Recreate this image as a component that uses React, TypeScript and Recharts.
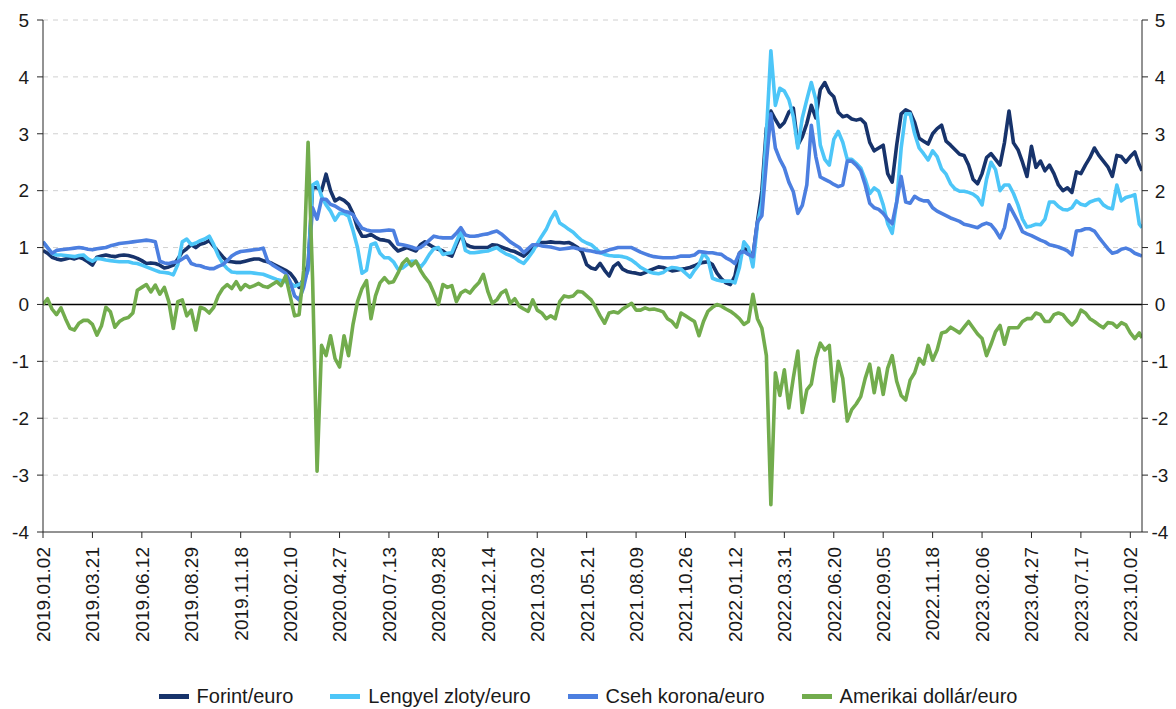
import React from 'react';
import { LineChart, Line, XAxis, YAxis, ReferenceLine, Legend } from 'recharts';

// trading-day index of each sample (every 5th trading day from 2019.01.02, plus the last day)
const days: number[] = Array.from({ length: 245 }, (_, k) => k * 5).concat([1223]);

const tickDays = [0, 55, 110, 165, 220, 275, 330, 385, 440, 495, 550, 605, 660, 715, 770, 825, 880, 935, 990, 1045, 1100, 1155, 1210];
const tickLabels = [
  '2019.01.02', '2019.03.21', '2019.06.12', '2019.08.29', '2019.11.18', '2020.02.10', '2020.04.27',
  '2020.07.13', '2020.09.28', '2020.12.14', '2021.03.02', '2021.05.21', '2021.08.09', '2021.10.26',
  '2022.01.12', '2022.03.31', '2022.06.20', '2022.09.05', '2022.11.18', '2023.02.06', '2023.04.27',
  '2023.07.17', '2023.10.02',
];
const yTicks = [-4, -3, -2, -1, 0, 1, 2, 3, 4, 5];
const gridValues = [-3, -2, -1, 1, 2, 3, 4, 5];

const forint = [
  0.95, 0.9, 0.83, 0.8, 0.78, 0.8, 0.82, 0.8, 0.83, 0.8, 0.75,
  0.69, 0.83, 0.85, 0.87, 0.85, 0.84, 0.86, 0.87, 0.86, 0.84, 0.81,
  0.77, 0.72, 0.73, 0.72, 0.69, 0.64, 0.66, 0.69, 0.8, 0.92, 0.98,
  1.05, 1.0, 1.06, 1.08, 1.12, 1.02, 0.93, 0.84, 0.76, 0.75, 0.74,
  0.74, 0.76, 0.78, 0.8, 0.8, 0.77, 0.75, 0.72, 0.68, 0.64, 0.6,
  0.55, 0.45, 0.3, 0.45, 0.7, 2.05, 2.05, 2.0, 2.29, 2.0, 1.82,
  1.87, 1.83, 1.76, 1.6, 1.35, 1.2, 1.2, 1.23, 1.18, 1.14, 1.13,
  1.11, 1.02, 0.94, 0.97, 1.0, 0.97, 0.94, 1.05, 1.1, 1.05, 1.0,
  0.97, 0.94, 0.88, 0.85, 1.05, 1.23, 1.06, 1.02, 1.0, 1.0, 1.0,
  1.0, 1.05, 1.04, 1.01, 0.98, 0.95, 0.93, 0.89, 0.85, 0.92, 0.98,
  1.05, 1.09, 1.09, 1.1, 1.09, 1.09, 1.08, 1.09, 1.05, 1.0, 0.92,
  0.7, 0.64, 0.62, 0.72, 0.6, 0.5, 0.67, 0.73, 0.62, 0.58, 0.56,
  0.55, 0.53, 0.56, 0.6, 0.63, 0.66, 0.65, 0.62, 0.59, 0.6, 0.62,
  0.63, 0.65, 0.68, 0.72, 0.74, 0.75, 0.7, 0.55, 0.45, 0.38, 0.35,
  0.5, 0.9, 0.98, 0.94, 0.85, 1.45, 2.0, 3.1, 3.4, 3.25, 3.12,
  3.2, 3.38, 3.45, 2.8, 2.95, 3.18, 3.5, 3.28, 3.78, 3.9, 3.73,
  3.65, 3.38, 3.3, 3.32, 3.26, 3.24, 3.26, 3.18, 2.85, 2.7, 2.75,
  2.8, 2.3, 2.15, 2.8, 3.35, 3.42, 3.38, 3.2, 2.92, 2.87, 2.82,
  3.0, 3.09, 3.15, 2.87, 2.8, 2.72, 2.64, 2.62, 2.45, 2.2, 2.12,
  2.3, 2.58, 2.65, 2.55, 2.45, 2.85, 3.4, 2.84, 2.72, 2.5, 2.25,
  2.78, 2.41, 2.52, 2.35, 2.45, 2.3, 2.1, 2.0, 2.05, 1.97, 2.33,
  2.3, 2.45, 2.58, 2.75, 2.62, 2.52, 2.42, 2.25, 2.62, 2.6, 2.5,
  2.6, 2.68, 2.45, 2.35,
];

const zloty = [
  1.1, 1.0, 0.9, 0.87, 0.87, 0.86, 0.85, 0.84, 0.86, 0.87, 0.8,
  0.76, 0.81, 0.8, 0.78, 0.77, 0.76, 0.75, 0.75, 0.75, 0.73, 0.72,
  0.69, 0.66, 0.63, 0.6, 0.57, 0.56, 0.55, 0.52, 0.7, 1.1, 1.15,
  1.05, 1.08, 1.12, 1.15, 1.2, 1.05, 0.86, 0.72, 0.63, 0.57, 0.56,
  0.56, 0.56, 0.56, 0.55, 0.54, 0.53, 0.5, 0.47, 0.44, 0.42, 0.4,
  0.38, 0.32, 0.35, 0.4, 0.6, 2.1, 2.15, 1.9, 1.75, 1.64, 1.48,
  1.6, 1.6, 1.55, 1.3, 1.0, 0.55, 0.6, 1.05, 1.08, 0.9, 0.82,
  0.82, 0.75, 0.62, 0.64, 0.7, 0.76, 0.76, 0.65, 0.75, 0.88, 0.98,
  1.0, 0.88, 0.9, 0.91, 1.1, 1.29, 0.95, 0.91, 0.91, 0.92, 0.93,
  0.94, 0.97, 1.0, 0.94, 0.89, 0.86, 0.82, 0.76, 0.72, 0.82, 0.93,
  1.07, 1.2, 1.32, 1.5, 1.63, 1.43, 1.38, 1.32, 1.27, 1.19, 1.12,
  1.08, 1.05, 0.98, 0.91, 0.88, 0.86, 0.85, 0.85, 0.84, 0.82, 0.78,
  0.72, 0.65, 0.61, 0.57, 0.55, 0.54, 0.56, 0.62, 0.65, 0.64, 0.62,
  0.55, 0.48, 0.6, 0.7, 0.9, 0.8, 0.46, 0.43, 0.41, 0.41, 0.41,
  0.38, 0.65, 1.1, 1.0, 0.66, 1.4, 1.8, 3.0, 4.46, 3.5, 3.8,
  3.75, 3.6, 3.3, 2.75, 3.28, 3.6, 3.9, 3.6, 2.8, 2.55, 2.45,
  2.9, 3.04, 2.85, 2.55, 2.55, 2.48, 2.4, 2.2, 1.95, 2.05, 1.99,
  1.75, 1.42, 1.25, 1.8, 2.75, 3.35, 3.35, 3.0, 2.75, 2.65, 2.54,
  2.7, 2.6, 2.38, 2.29, 2.12, 2.03, 1.99, 1.99, 1.97, 1.94, 1.88,
  1.75, 2.2, 2.5, 2.37, 2.0, 2.1, 2.1, 1.95, 1.75, 1.5, 1.36,
  1.38, 1.41, 1.4, 1.5, 1.8, 1.8, 1.72, 1.67, 1.66, 1.7, 1.82,
  1.76, 1.74, 1.8, 1.83, 1.85, 1.75, 1.7, 1.68, 2.1, 1.82, 1.88,
  1.9, 1.93, 1.41, 1.35,
];

const cseh = [
  1.1, 1.0, 0.9, 0.95, 0.96, 0.97, 0.98, 0.99, 1.0, 0.99, 0.97,
  0.96, 0.98, 0.99, 1.0, 1.03, 1.05, 1.07, 1.08, 1.09, 1.1, 1.11,
  1.12, 1.13, 1.12, 1.1, 0.76, 0.73, 0.72, 0.74, 0.75, 0.8, 0.85,
  0.72, 0.69, 0.68, 0.65, 0.63, 0.63, 0.67, 0.7, 0.77, 0.85, 0.9,
  0.93, 0.94, 0.95, 0.96, 0.97, 0.99, 0.76, 0.7, 0.65, 0.6, 0.55,
  0.4, 0.15, 0.08, 0.3, 0.65, 1.7, 1.5, 1.85, 1.85, 1.76, 1.73,
  1.68, 1.64, 1.62, 1.58, 1.45, 1.34, 1.31, 1.29, 1.29, 1.29, 1.3,
  1.31, 1.3, 1.06, 1.05, 1.03, 1.01, 0.98, 1.0, 1.06, 1.13, 1.2,
  1.18, 1.17, 1.17, 1.17, 1.25, 1.35, 1.22, 1.2, 1.2, 1.21, 1.23,
  1.24, 1.27, 1.29, 1.24, 1.17, 1.1, 1.05, 1.0, 0.91, 0.98, 1.05,
  1.05, 1.03, 1.02, 1.01, 0.99, 0.97, 0.98, 0.99, 1.0, 0.98, 0.97,
  0.95, 0.94, 0.92, 0.91, 0.93, 0.96, 0.98, 1.0, 1.0, 1.0, 1.0,
  0.96, 0.92, 0.89, 0.86, 0.84, 0.83, 0.82, 0.82, 0.82, 0.83, 0.85,
  0.85, 0.85, 0.87, 0.93, 0.92, 0.91, 0.91, 0.89, 0.88, 0.82, 0.78,
  0.72, 0.9, 0.93, 0.88, 0.84, 1.45, 1.56, 2.5, 3.35, 2.75, 2.55,
  2.4, 2.15, 1.98, 1.6, 1.74, 2.1, 3.15, 2.6, 2.24, 2.2, 2.16,
  2.11, 2.07, 2.1, 2.52, 2.52, 2.45, 2.35, 2.1, 1.78, 1.7, 1.67,
  1.6, 1.5, 1.42, 1.8, 2.25, 1.8, 1.78, 1.9, 1.85, 1.82, 1.82,
  1.7, 1.64, 1.6, 1.56, 1.52, 1.49, 1.46, 1.41, 1.39, 1.37, 1.35,
  1.4, 1.43, 1.4, 1.3, 1.17, 1.35, 1.75, 1.6, 1.45, 1.28, 1.24,
  1.21, 1.17, 1.13, 1.1, 1.05, 1.03, 1.01, 0.98, 0.94, 0.87, 1.29,
  1.3, 1.33, 1.33, 1.29, 1.18, 1.08, 0.98, 0.9, 0.92, 0.97, 0.99,
  0.96, 0.9, 0.87, 0.85,
];

const usd = [
  0.0, 0.1, -0.08, -0.18, -0.06, -0.25, -0.42, -0.45, -0.33, -0.28, -0.28,
  -0.35, -0.54, -0.38, -0.05, -0.13, -0.4, -0.3, -0.25, -0.23, -0.15, 0.25,
  0.3, 0.35, 0.22, 0.34, 0.18, 0.3, 0.05, -0.42, 0.05, 0.08, -0.2,
  -0.1, -0.45, -0.05, -0.08, -0.15, -0.05, 0.15, 0.28, 0.35, 0.28, 0.4,
  0.26, 0.35, 0.3, 0.33, 0.37, 0.32, 0.3, 0.35, 0.4, 0.33, 0.5,
  0.15, -0.2, -0.18, 0.59, 2.85, 0.45, -2.93, -0.72, -0.9, -0.55, -0.95,
  -1.1, -0.55, -0.9, -0.35, 0.05, 0.28, 0.42, -0.25, 0.15, 0.38, 0.47,
  0.38, 0.4, 0.55, 0.72, 0.8, 0.68, 0.76, 0.6, 0.48, 0.38, 0.2,
  0.0, 0.35, 0.3, 0.33, 0.05, 0.2, 0.25, 0.2, 0.3, 0.38, 0.53,
  0.23, 0.02, 0.08, 0.2, 0.25, 0.02, 0.1, -0.03, -0.08, -0.12, 0.08,
  -0.1, -0.15, -0.25, -0.2, -0.25, 0.05, 0.15, 0.13, 0.15, 0.23, 0.22,
  0.15, 0.08, -0.05, -0.2, -0.33, -0.15, -0.13, -0.15, -0.08, -0.03, 0.02,
  -0.1, -0.1, -0.06, -0.09, -0.08, -0.1, -0.13, -0.25, -0.3, -0.4, -0.15,
  -0.2, -0.25, -0.3, -0.55, -0.3, -0.12, -0.05, 0.0, -0.03, -0.08, -0.12,
  -0.18, -0.25, -0.35, -0.3, 0.18, -0.25, -0.42, -0.9, -3.52, -1.2, -1.6,
  -1.15, -1.82, -1.29, -0.82, -1.9, -1.5, -1.4, -0.95, -0.68, -0.8, -0.72,
  -1.7, -1.0, -1.3, -2.05, -1.85, -1.75, -1.62, -1.3, -1.05, -1.55, -1.12,
  -1.58, -1.12, -0.9, -1.35, -1.6, -1.68, -1.33, -1.2, -0.95, -1.05, -0.72,
  -0.98, -0.8, -0.5, -0.48, -0.4, -0.45, -0.5, -0.4, -0.3, -0.41, -0.52,
  -0.6, -0.9, -0.7, -0.48, -0.37, -0.7, -0.41, -0.41, -0.41, -0.3, -0.25,
  -0.25, -0.15, -0.18, -0.3, -0.3, -0.18, -0.15, -0.18, -0.28, -0.36, -0.28,
  -0.1, -0.15, -0.25, -0.3, -0.36, -0.41, -0.32, -0.33, -0.4, -0.32, -0.36,
  -0.5, -0.6, -0.5, -0.59,
];

const seriesNames = ['Forint/euro', 'Lengyel zloty/euro', 'Cseh korona/euro', 'Amerikai dollár/euro'];
const seriesKeys = ['forint', 'zloty', 'cseh', 'usd'];
const seriesColors = ['#17336B', '#4DC6F8', '#4C7FE0', '#72AC4D'];

const data = days.map((d, k) => ({
  d,
  forint: forint[k],
  zloty: zloty[k],
  cseh: cseh[k],
  usd: usd[k],
}));

const FONT = '"Liberation Sans", Arial, sans-serif';
const TEXT = '#1a1a1a';
const AXIS = '#262626';

function DateTick(props: any) {
  const { x, y, payload } = props;
  const idx = tickDays.indexOf(payload.value);
  return (
    <g transform={`translate(${x},${y})`}>
      <text transform="rotate(-90)" x={-7} y={0} dy="0.36em" textAnchor="end" fontSize={19} fill={TEXT} fontFamily={FONT}>
        {idx >= 0 ? tickLabels[idx] : ''}
      </text>
    </g>
  );
}

function RightTick(props: any) {
  const { x, y, payload } = props;
  return (
    <text x={x + 10} y={y} dy="0.36em" textAnchor="middle" fontSize={19} fill={TEXT} fontFamily={FONT}>
      {String(payload.value)}
    </text>
  );
}

function LegendContent() {
  return (
    <div style={{ display: 'flex', justifyContent: 'center', alignItems: 'center', gap: 37, height: 26, fontFamily: FONT, fontSize: 20, color: TEXT, whiteSpace: 'nowrap' }}>
      {seriesNames.map((n, i) => (
        <div key={n} style={{ display: 'flex', alignItems: 'center' }}>
          <div style={{ width: 30, height: 5, background: seriesColors[i], marginRight: 8 }} />
          <span>{n}</span>
        </div>
      ))}
    </div>
  );
}

export default function App() {
  return (
    <div style={{ position: 'absolute', left: 0, top: 0, width: 1176, height: 709, background: '#fff' }}>
      <LineChart width={1176} height={709} data={data} margin={{ top: 20, right: 0, bottom: 0, left: 0 }}>
        <XAxis
          dataKey="d"
          type="number"
          domain={[0, 1223]}
          ticks={tickDays}
          interval={0}
          height={151}
          tickSize={6}
          tickMargin={2}
          axisLine={{ stroke: AXIS }}
          tickLine={{ stroke: AXIS }}
          tick={<DateTick />}
          allowDataOverflow
        />
        <YAxis
          yAxisId="left"
          type="number"
          domain={[-4, 5]}
          ticks={yTicks}
          interval={0}
          width={43}
          tickSize={6}
          tickMargin={8}
          axisLine={{ stroke: AXIS }}
          tickLine={{ stroke: AXIS }}
          tick={{ fontSize: 19, fill: TEXT, fontFamily: FONT }}
          allowDataOverflow
        />
        <YAxis
          yAxisId="right"
          orientation="right"
          type="number"
          domain={[-4, 5]}
          ticks={yTicks}
          interval={0}
          width={34}
          tickSize={6}
          tickMargin={2}
          axisLine={{ stroke: AXIS }}
          tickLine={{ stroke: AXIS }}
          tick={<RightTick />}
          allowDataOverflow
        />
        {gridValues.map((g) => (
          <ReferenceLine key={`g${g}`} yAxisId="left" y={g} stroke="#D0D0D0" strokeWidth={1} strokeDasharray="5 5" />
        ))}
        <ReferenceLine yAxisId="left" y={0} stroke="#000" strokeWidth={1.5} />
        {seriesKeys.map((k, i) => (
          <Line
            key={k}
            yAxisId="left"
            type="linear"
            dataKey={k}
            name={seriesNames[i]}
            stroke={seriesColors[i]}
            strokeWidth={3.6}
            dot={false}
            activeDot={false}
            strokeLinejoin="round"
            isAnimationActive={false}
          />
        ))}
        <Legend verticalAlign="bottom" align="center" content={<LegendContent />} />
      </LineChart>
    </div>
  );
}
